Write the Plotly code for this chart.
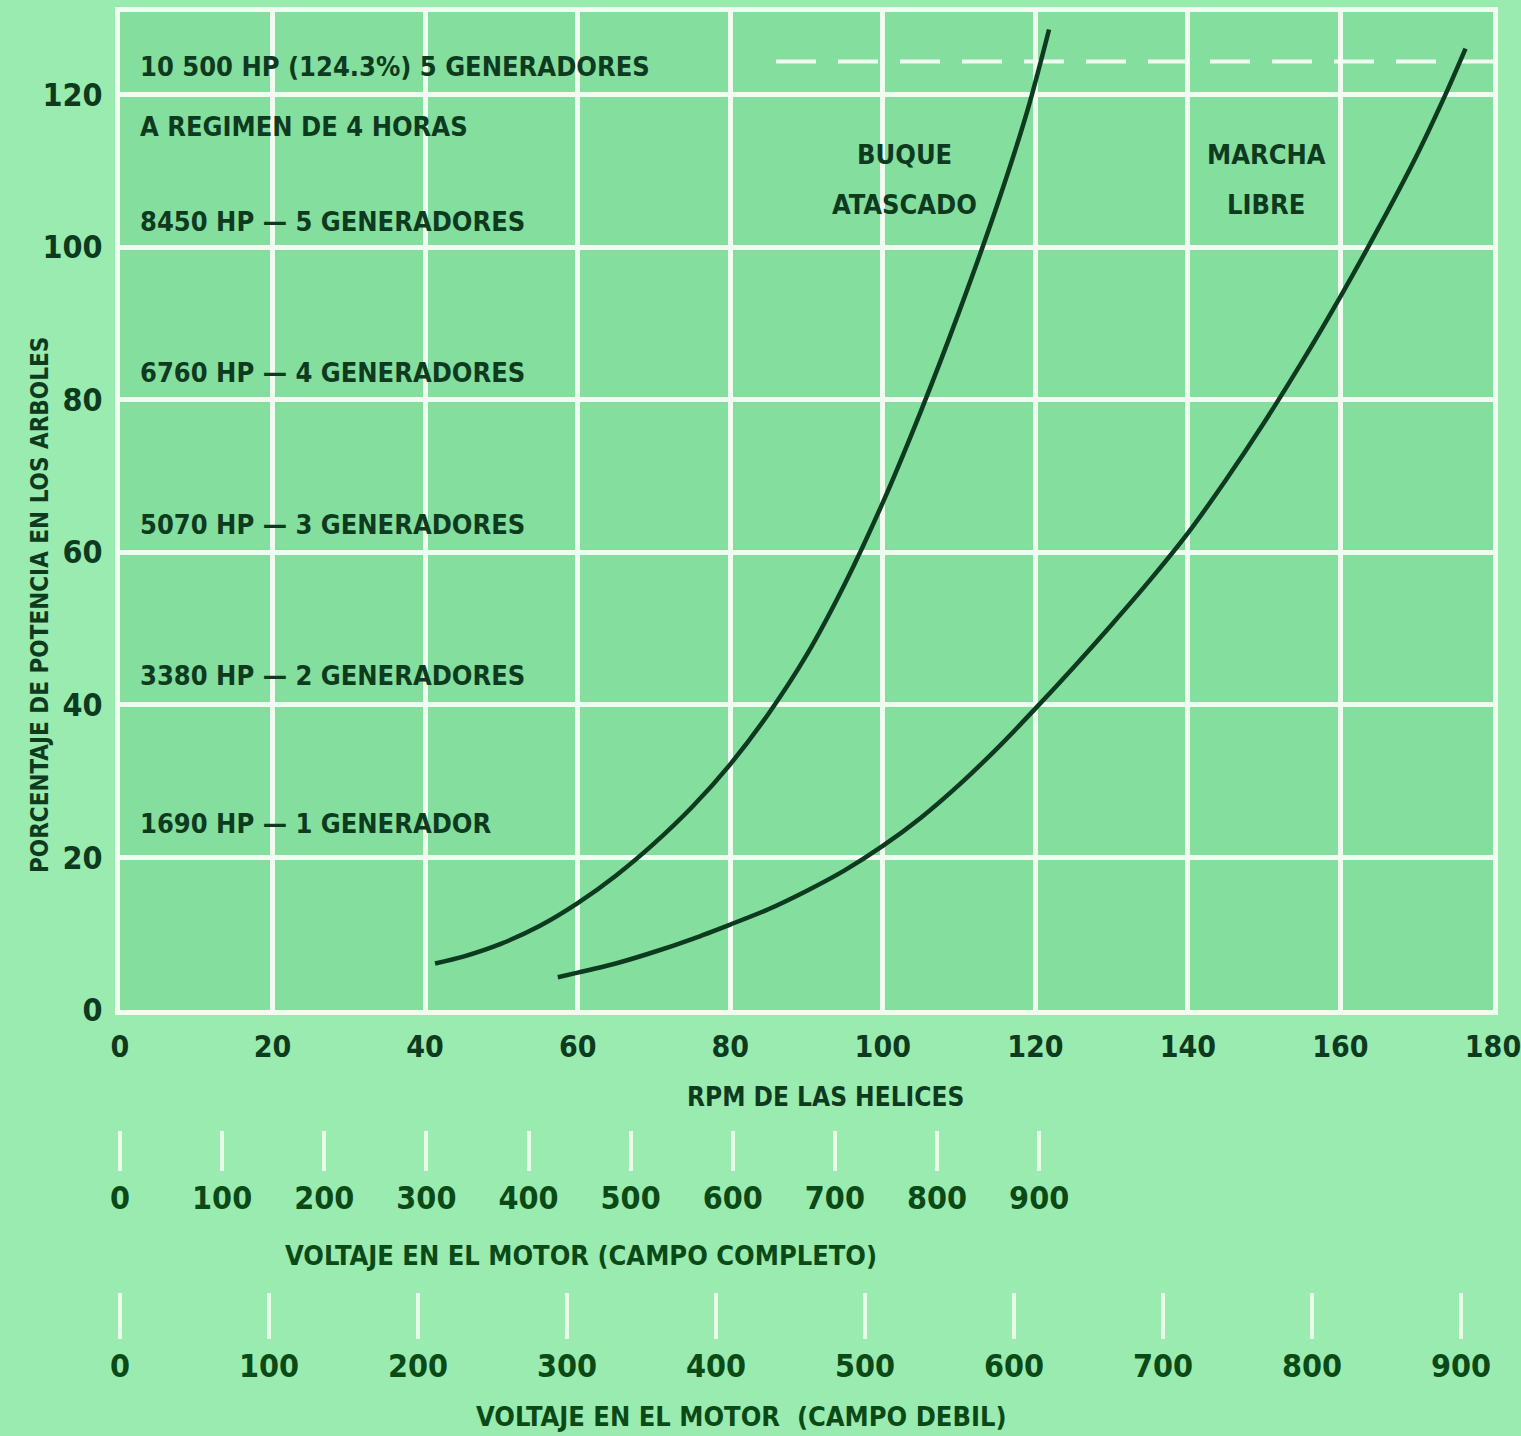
import plotly.graph_objects as go

# ---- data ----
rpm_atascado = [41.3, 45, 50, 55, 60, 65, 70, 75, 80, 85, 90, 95, 100, 105, 110, 115, 119, 121.8]
pot_atascado = [6.1, 7.0, 8.7, 11.0, 14.0, 17.6, 21.8, 26.6, 32.2, 38.8, 46.5, 55.8, 66.5, 78.5, 91.5, 105.5, 118.0, 128.5]

rpm_libre = [57.4, 60, 65, 70, 75, 80, 85, 90, 95, 100, 105, 110, 115, 120, 125, 130, 135, 140,
             145, 150, 155, 160, 165, 170, 174, 176.4]
pot_libre = [4.3, 4.9, 6.1, 7.6, 9.3, 11.2, 13.2, 15.6, 18.3, 21.5, 25.2, 29.5, 34.3, 39.5, 44.9,
             50.5, 56.3, 62.5, 69.5, 77.0, 85.0, 93.5, 102.5, 112.0, 120.5, 126.0]

x_ticks = [0, 20, 40, 60, 80, 100, 120, 140, 160, 180]
y_ticks = [0, 20, 40, 60, 80, 100, 120]
volt_ticks = [0, 100, 200, 300, 400, 500, 600, 700, 800, 900]

hp_labels = ["10 500 HP (124.3%) 5 GENERADORES", "A REGIMEN DE 4 HORAS",
             "8450 HP — 5 GENERADORES", "6760 HP — 4 GENERADORES",
             "5070 HP — 3 GENERADORES", "3380 HP — 2 GENERADORES",
             "1690 HP — 1 GENERADOR"]
hp_label_y = [123.6, 115.8, 103.4, 83.5, 63.6, 43.8, 24.4]
limit_hp_pct = 124.3

# ---- styles ----
FONT = "Liberation Sans Narrow, DejaVu Sans Condensed, Arial Narrow, sans-serif"
DARK = "#0e3a20"
VGREEN = "#0b4a17"
GRID = "#effcef"
PLOT_BG = "#84de9e"
PAPER_BG = "#9aebaf"

W, H = 1521, 1436
ML, MR, MT, MB = 120, 28, 12, 10
PH = H - MT - MB


def py(pix):
    """pixel row -> paper fraction"""
    return (H - MB - pix) / PH


fig = go.Figure()

fig.add_trace(go.Scatter(x=rpm_atascado, y=pot_atascado, mode="lines",
                         line=dict(color=DARK, width=4.5, shape="spline", smoothing=0.8),
                         showlegend=False, hoverinfo="skip"))
fig.add_trace(go.Scatter(x=rpm_libre, y=pot_libre, mode="lines",
                         line=dict(color=DARK, width=4.5, shape="spline", smoothing=0.8),
                         showlegend=False, hoverinfo="skip"))

# dummy traces to activate secondary axes
fig.add_trace(go.Scatter(x=[0, 900], y=[None, None], xaxis="x2", yaxis="y",
                         showlegend=False, hoverinfo="skip"))
fig.add_trace(go.Scatter(x=[0, 900], y=[None, None], xaxis="x3", yaxis="y",
                         showlegend=False, hoverinfo="skip"))

# dashed limit line
fig.add_shape(type="line", xref="x", yref="y", x0=86, x1=180,
              y0=limit_hp_pct, y1=limit_hp_pct,
              line=dict(color=GRID, width=4, dash="40px,22px"), layer="below")

ydom0 = py(1010)

# HP annotations
for txt, yy in zip(hp_labels, hp_label_y):
    fig.add_annotation(x=2.4, y=yy, xref="x", yref="y", text=txt, showarrow=False,
                       xanchor="left", yanchor="middle",
                       font=dict(family=FONT, size=27, color=DARK, weight="bold"))

for txt, xx, yy in [("BUQUE", 102.8, 112.1), ("ATASCADO", 102.8, 105.6),
                    ("MARCHA", 150.3, 112.1), ("LIBRE", 150.3, 105.6)]:
    fig.add_annotation(x=xx, y=yy, xref="x", yref="y", text=txt,
                       showarrow=False, xanchor="center", yanchor="middle",
                       font=dict(family=FONT, size=27, color=DARK, weight="bold"))

# axis titles
fig.add_annotation(x=92.5, y=py(1097), xref="x", yref="paper",
                   text="RPM DE LAS HELICES", showarrow=False,
                   xanchor="center", yanchor="middle",
                   font=dict(family=FONT, size=26, color=DARK, weight="bold"))
fig.add_annotation(x=60.5, y=py(1255), xref="x", yref="paper",
                   text="VOLTAJE EN EL MOTOR (CAMPO COMPLETO)", showarrow=False,
                   xanchor="center", yanchor="middle",
                   font=dict(family=FONT, size=27, color=VGREEN, weight="bold"))
fig.add_annotation(x=81.5, y=py(1416), xref="x", yref="paper",
                   text="VOLTAJE EN EL MOTOR  (CAMPO DEBIL)", showarrow=False,
                   xanchor="center", yanchor="middle",
                   font=dict(family=FONT, size=27, color=VGREEN, weight="bold"))
fig.add_annotation(x=(40 - ML) / (W - ML - MR), y=py(605), xref="paper", yref="paper",
                   text="PORCENTAJE DE POTENCIA EN LOS ARBOLES", showarrow=False,
                   textangle=-90, xanchor="center", yanchor="middle",
                   font=dict(family=FONT, size=24, color=DARK, weight="bold"))

fig.update_layout(
    width=W, height=H, autosize=False,
    margin=dict(l=ML, r=MR, t=MT, b=MB, autoexpand=False),
    paper_bgcolor=PAPER_BG, plot_bgcolor=PLOT_BG,
    showlegend=False,
    xaxis=dict(range=[0, 180], tickvals=x_ticks, ticktext=[str(v) for v in x_ticks],
               showgrid=True, gridcolor=GRID, gridwidth=5, zeroline=False,
               showline=True, linecolor=GRID, linewidth=5, mirror=True,
               ticks="", anchor="y", ticklabeloverflow="allow", automargin=False,
               ticklabelstandoff=6,
               tickfont=dict(family=FONT, size=30, color=DARK, weight="bold")),
    yaxis=dict(range=[0, 130.8], domain=[ydom0, 1], tickvals=y_ticks,
               ticktext=[str(v) for v in y_ticks],
               showgrid=True, gridcolor=GRID, gridwidth=5, zeroline=False,
               showline=True, linecolor=GRID, linewidth=5, mirror=True,
               ticks="", ticklabelstandoff=6, automargin=False,
               tickfont=dict(family=FONT, size=32, color=DARK, weight="bold")),
    xaxis2=dict(range=[0, 900 * 180 / 120.5], overlaying="x", anchor="free",
                position=py(1130), side="bottom", ticklabeloverflow="allow",
                automargin=False,
                tickvals=volt_ticks, ticktext=[str(v) for v in volt_ticks],
                showgrid=False, zeroline=False, showline=False,
                ticks="outside", ticklen=40, tickwidth=4, tickcolor="#eafbe8",
                tickfont=dict(family=FONT, size=32, color=VGREEN, weight="bold")),
    xaxis3=dict(range=[0, 900 * 180 / 175.8], overlaying="x", anchor="free",
                position=py(1292), side="bottom", ticklabeloverflow="allow",
                automargin=False,
                tickvals=volt_ticks, ticktext=[str(v) for v in volt_ticks],
                showgrid=False, zeroline=False, showline=False,
                ticks="outside", ticklen=46, tickwidth=4, tickcolor="#eafbe8",
                tickfont=dict(family=FONT, size=32, color=VGREEN, weight="bold")),
)

page_css = (
    "var de=document.documentElement, b=document.body;"
    "de.style.margin='0'; de.style.padding='0'; de.style.overflow='hidden';"
    "de.style.background='" + PAPER_BG + "';"
    "b.style.margin='0'; b.style.padding='0'; b.style.overflow='hidden';"
    "b.style.background='" + PAPER_BG + "';"
)

fig.write_html(
    "out.html",
    config={"displayModeBar": False, "responsive": False},
    default_width=str(W) + "px", default_height=str(H) + "px",
    post_script=page_css,
)
